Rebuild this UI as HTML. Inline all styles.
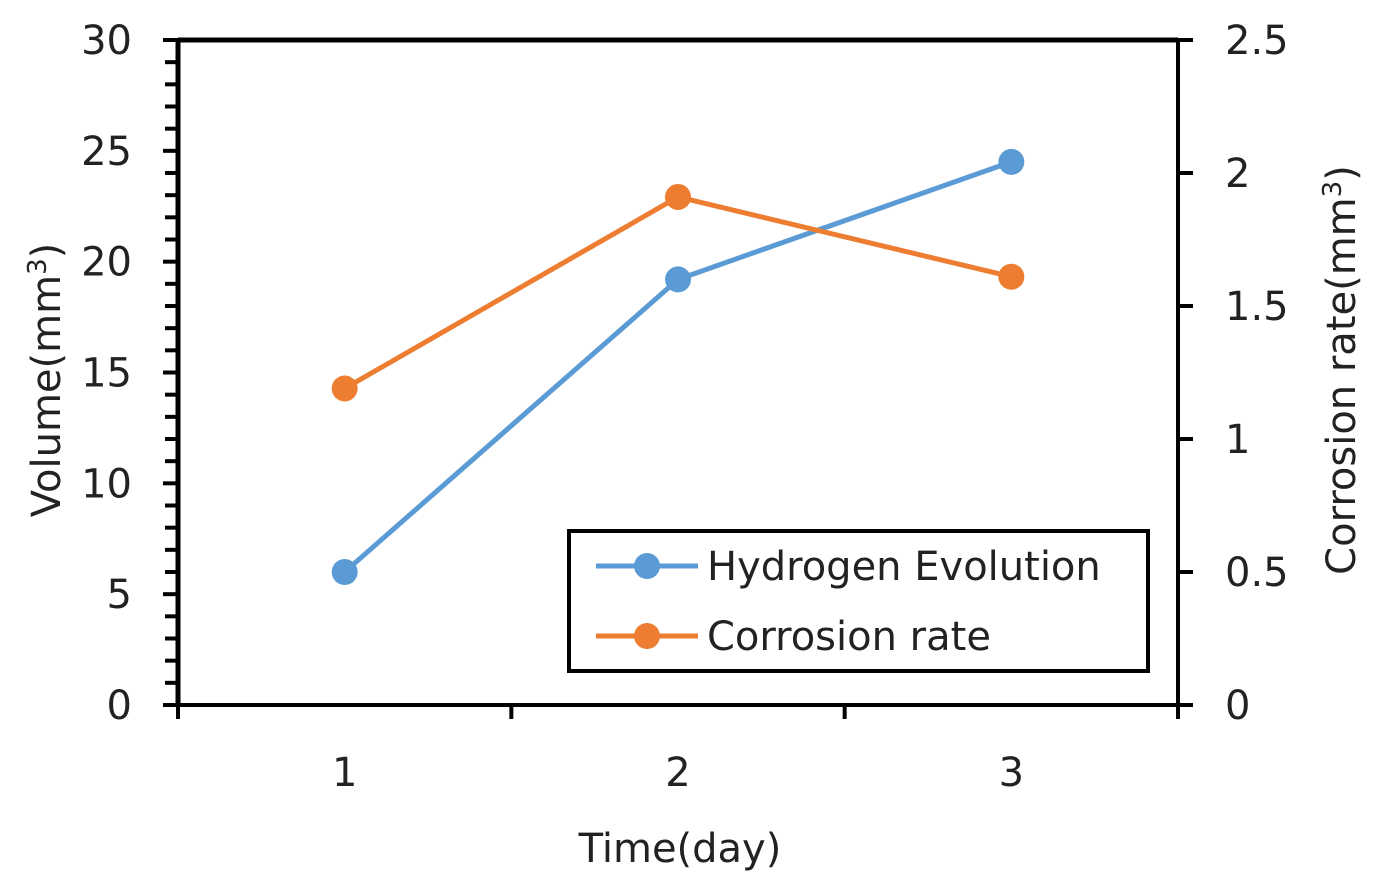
<!DOCTYPE html>
<html><head><meta charset="utf-8"><style>
body{margin:0;background:#fff}
svg{display:block;font-family:"DejaVu Sans","Liberation Sans",sans-serif}
</style></head><body>
<svg id="chart" width="1379" height="890"></svg>
<script>
const categories=[1,2,3];
const hydrogen=[6.0,19.2,24.5];
const corrosion=[1.19,1.91,1.61];
const leftTicks=[0,5,10,15,20,25,30];
const rightTicks=["0","0.5","1","1.5","2","2.5"];
const NS="http://www.w3.org/2000/svg";
const svg=document.getElementById('chart');
const L=178,R=1178,T=40,B=705;
const xS=i=>L+(i+0.5)*(R-L)/categories.length;
const yL=v=>B-v/30*(B-T);
const yR=v=>B-v/2.5*(B-T);
function mk(t,a,p){const e=document.createElementNS(NS,t);for(const k in a)e.setAttribute(k,a[k]);(p||svg).appendChild(e);return e;}
// axes
let e;
e=mk('line',{x1:L,y1:T,x2:R,y2:T,stroke:'#000','stroke-width':5});


e=mk('line',{x1:L,y1:T-2,x2:L,y2:B+2,stroke:'#000','stroke-width':5});


e=mk('line',{x1:R,y1:T-2,x2:R,y2:B+2,stroke:'#000','stroke-width':4});


e=mk('line',{x1:L,y1:B,x2:R,y2:B,stroke:'#000','stroke-width':4});


for(let v=0;v<=30;v++){
  const major=v%5===0;
  e=mk('line',{x1:major?163:165,y1:yL(v),x2:L,y2:yL(v),stroke:'#000','stroke-width':4});
  
  
}
leftTicks.forEach(v=>{
  e=mk('text',{x:132,y:yL(v)+14,'text-anchor':'end','font-size':40,fill:'#222'});e.textContent=v;
  
  
});
rightTicks.forEach(s=>{
  const v=parseFloat(s);
  e=mk('line',{x1:R,y1:yR(v),x2:1193,y2:yR(v),stroke:'#000','stroke-width':4});
  
  
  e=mk('text',{x:1225,y:yR(v)+14,'font-size':40,fill:'#222'});e.textContent=s;
  
  
});
for(let i=0;i<=categories.length;i++){
  const x=L+i*(R-L)/categories.length;
  e=mk('line',{x1:x,y1:B,x2:x,y2:719,stroke:'#000','stroke-width':4});
  
  
}
categories.forEach((c,i)=>{
  e=mk('text',{x:xS(i),y:786,'text-anchor':'middle','font-size':40,fill:'#222'});e.textContent=c;
  
  
});
// titles
e=mk('text',{x:680,y:862,'text-anchor':'middle','font-size':40,fill:'#222'});e.textContent='Time(day)';


e=mk('text',{transform:'translate(60,380) rotate(-90)','text-anchor':'middle','font-size':40,fill:'#222'});
e.innerHTML='Volume(mm<tspan font-size="26" dy="-14">3</tspan><tspan dy="14">)</tspan>';


e=mk('text',{transform:'translate(1355,370) rotate(-90)','text-anchor':'middle','font-size':40,fill:'#222'});
e.innerHTML='Corrosion rate(mm<tspan font-size="26" dy="-14">3</tspan><tspan dy="14">)</tspan>';


// series
function series(vals,ys,color,name){
  const pts=vals.map((v,i)=>xS(i)+','+ys(v)).join(' ');
  e=mk('polyline',{points:pts,fill:'none',stroke:color,'stroke-width':5});
  
  
  vals.forEach((v,i)=>{
    e=mk('circle',{cx:xS(i),cy:ys(v),r:13,fill:color});
    
    
  });
}
series(hydrogen,yL,'#5B9BD5','hydrogen');
series(corrosion,yR,'#ED7D31','corrosion');
// legend
const g=mk('g',{});


mk('rect',{x:569,y:531,width:579,height:140,fill:'#fff',stroke:'#000','stroke-width':4},g);
[['Hydrogen Evolution','#5B9BD5',566],['Corrosion rate','#ED7D31',636]].forEach(([t,c,y])=>{
  const le=mk('g',{},g);
  
  
  mk('line',{x1:596,y1:y,x2:698,y2:y,stroke:c,'stroke-width':5},le);
  mk('circle',{cx:647,cy:y,r:13,fill:c},le);
  const tx=mk('text',{x:707,y:y+14,'font-size':40,fill:'#222'},le);tx.textContent=t;
});
</script>
</body></html>
